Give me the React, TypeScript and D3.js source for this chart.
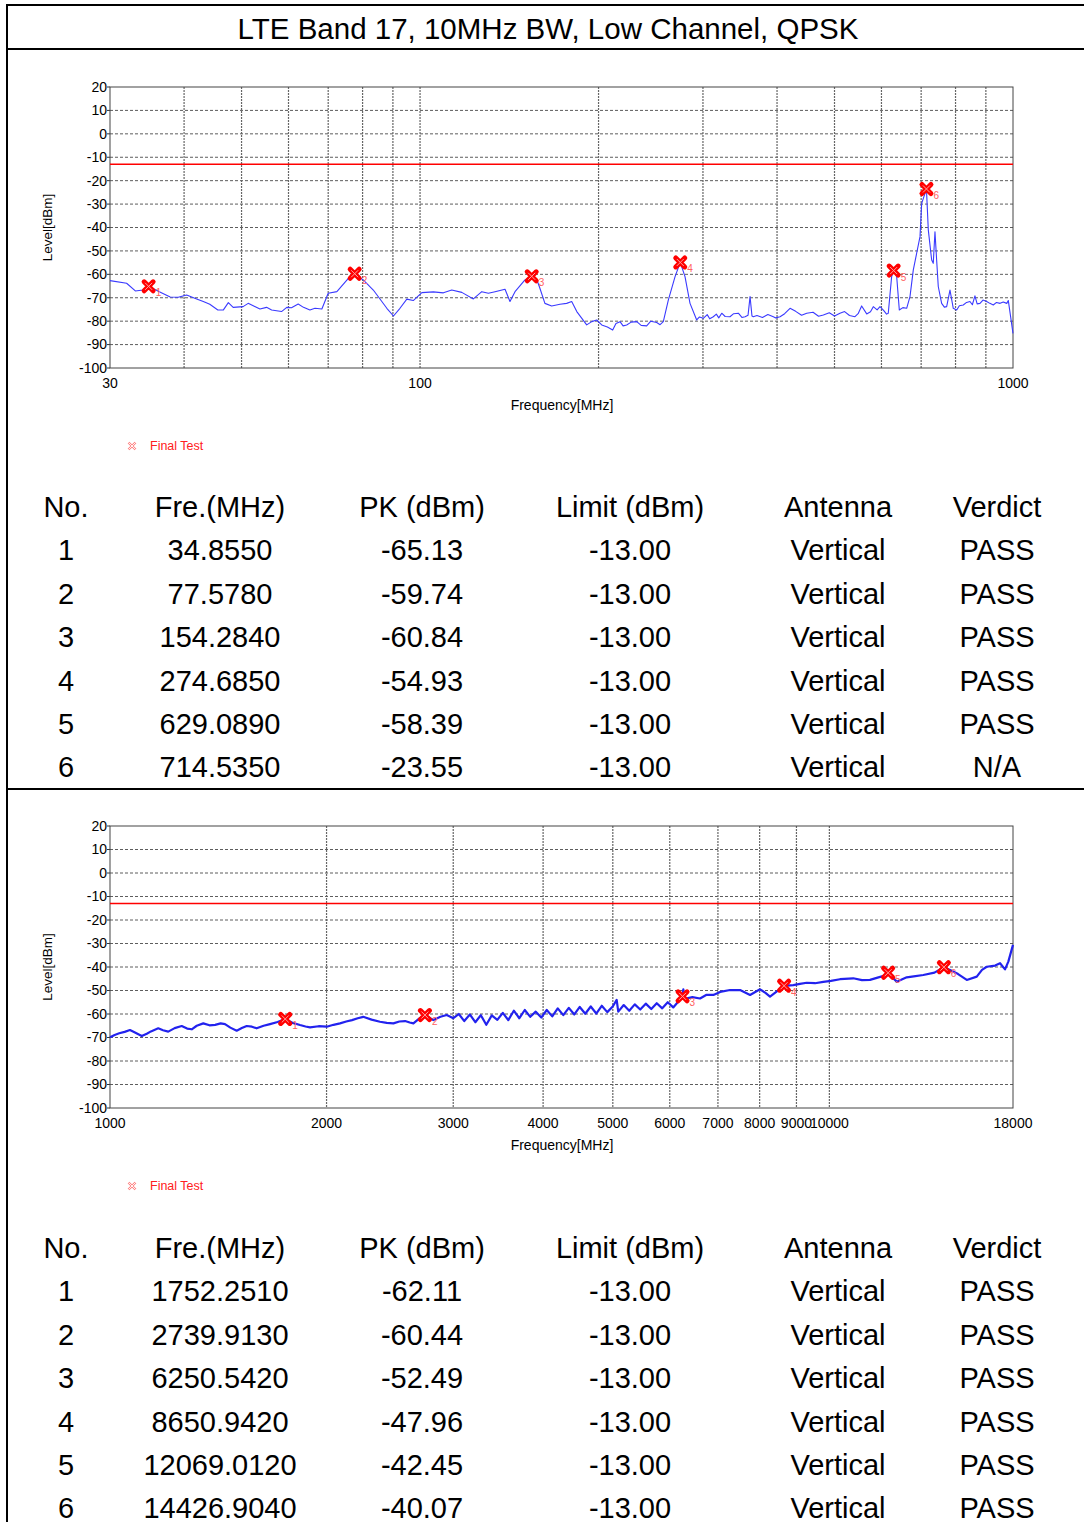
import React from 'react';
import * as d3 from 'd3';

// ---------- DATA ----------
const topTrace: [number, number][] = [
  [30, -62.7], [32.0, -63.8], [33.1, -67.1], [34.1, -66.7], [34.86, -65.1], [36.4, -67.5], [37.9, -69.7], [39.1, -69.8],
  [40.4, -68.8], [42.0, -70.5], [43.1, -71.6], [44.2, -72.8], [45.6, -75.2], [46.6, -75.2], [47.5, -72.1], [48.4, -74.1],
  [50.3, -73.8], [51.3, -72.4], [53.7, -74.8], [55.1, -74.1], [56.2, -75.2], [58.4, -75.9], [59.6, -74.1], [60.7, -74.3],
  [62.3, -72.7], [63.6, -74.1], [65.2, -75.2], [66.5, -74.5], [68.3, -74.8], [70.0, -68.1], [72.4, -67.4], [75.7, -61.7],
  [77.58, -59.7], [80.2, -62.4], [83.4, -66.7], [87.9, -74.5], [90.2, -77.8], [92.5, -74.5], [95.0, -70.6], [97.4, -71.2],
  [100.7, -67.8], [105.3, -67.5], [109.5, -67.9], [113.1, -66.7], [117.6, -67.7], [123.0, -70.5], [127.1, -67.4],
  [130.4, -68.1], [133.8, -67.4], [139.1, -66.4], [141.8, -71.6], [144.6, -67.4], [150.3, -62.4], [154.28, -60.8],
  [157.3, -62.2], [158.9, -65.2], [162.4, -72.4], [166.7, -73.5], [172.2, -72.8], [176.7, -72.4], [180.2, -71.6],
  [183.8, -75.9], [191.0, -81.6], [194.8, -80.2], [198.6, -79.5], [202.5, -81.6], [207, -82.5], [211.3, -83.8],
  [214, -81.0], [217.4, -80.2], [220, -82.0], [223.1, -81.6], [227, -80.4], [232.0, -80.2], [236, -81.8], [241.1, -82.0],
  [245, -80.0], [250.7, -80.6], [254, -81.5], [257.2, -80.2], [262.3, -70.9], [269.2, -61.0], [274.69, -54.9],
  [279.8, -61.0], [285.3, -72.4], [292.8, -79.5], [296, -78.2], [300.4, -78.8], [305, -77.2], [308, -79.0],
  [312.3, -78.1], [316, -77.0], [319, -78.6], [322.7, -76.6], [327, -78.0], [333.2, -78.1], [338, -76.8],
  [344.2, -76.6], [349, -78.4], [353.3, -78.1], [357.4, -77.5], [360.2, -69.5], [362.9, -77.8], [364.8, -78.1],
  [370, -77.6], [378, -78.4], [386, -77.2], [394.3, -78.1], [398, -78.6], [404.7, -78.1], [412, -76.8],
  [420.7, -74.5], [430, -75.8], [440, -77.5], [448.9, -76.6], [460, -76.2], [470, -77.9], [478.8, -77.4],
  [490, -76.4], [500, -77.8], [510.7, -76.6], [520, -75.9], [530, -77.6], [541.4, -78.1], [548, -76.8],
  [555.6, -73.5], [566.6, -76.9], [575, -76.0], [581.3, -73.8], [590, -75.2], [596.6, -73.8], [605, -75.4],
  [612, -77.0], [616.1, -76.6], [624.2, -61.0], [629.09, -58.4], [636.6, -61.0], [643.1, -75.2], [652, -74.2],
  [661.7, -74.5], [670.3, -69.5], [679.0, -58.1], [687.9, -51.0], [696.9, -43.9], [701.4, -29.7], [714.54, -23.6],
  [719.7, -41.0], [729.2, -53.9], [733.7, -55.3], [738.6, -41.8], [743.4, -53.9], [748.1, -65.2], [758.0, -72.4],
  [766, -74.0], [772.9, -73.8], [782.9, -66.7], [793.0, -74.5], [803.6, -75.2], [812, -73.4], [824.4, -73.1],
  [835, -72.0], [846.1, -71.6], [854, -73.0], [862.6, -69.2], [870, -72.6], [879.7, -72.4], [890, -71.0],
  [902.7, -71.6], [914, -72.4], [926.3, -73.1], [938, -72.0], [951.0, -72.4], [963, -71.8], [976.0, -72.4],
  [982.0, -71.2], [1000, -85.2],
];

const bottomTrace: [number, number][] = [
  [1000, -69.9], [1015, -68.9], [1030, -68.2], [1048, -67.6], [1066, -66.8], [1085, -68.0], [1107, -69.4], [1125, -68.4],
  [1140, -67.4], [1167, -66.1], [1185, -66.9], [1205, -67.5], [1230, -66.0], [1258, -65.1], [1280, -66.2], [1299, -66.5],
  [1320, -65.0], [1348, -64.0], [1375, -64.8], [1400, -64.6], [1425, -64.0], [1445, -64.3], [1470, -65.8], [1500, -67.1],
  [1525, -66.0], [1549, -65.1], [1575, -65.4], [1599, -66.1], [1635, -65.0], [1669, -64.3], [1710, -63.4], [1752, -62.1],
  [1795, -63.8], [1837, -64.7], [1870, -65.3], [1897, -65.7], [1950, -65.2], [2001, -65.4], [2045, -64.6], [2088, -64.0],
  [2130, -63.2], [2170, -62.6], [2210, -61.8], [2249, -61.2], [2310, -62.4], [2373, -63.3], [2425, -63.8], [2477, -64.0],
  [2525, -63.2], [2572, -63.0], [2610, -63.6], [2641, -64.0], [2690, -62.0], [2740, -60.4],
  [2815, -62.6], [2880, -61.2], [2938, -60.4],
  [3001, -61.8], [3054, -60.0], [3108, -63.0], [3164, -60.2], [3220, -63.5], [3277, -60.5], [3335, -64.6],
  [3394, -60.6], [3455, -62.5], [3516, -59.5], [3578, -62.6], [3642, -58.6], [3707, -61.8], [3772, -58.3],
  [3839, -61.2], [3907, -59.0], [3977, -61.5], [4047, -58.3], [4119, -61.0], [4192, -57.6], [4267, -60.5],
  [4343, -57.4], [4420, -60.2], [4498, -57.0], [4578, -59.9], [4659, -56.8], [4742, -59.8], [4826, -56.5],
  [4912, -59.2], [4999, -56.8], [5062, -54.0], [5088, -59.0], [5178, -56.2], [5270, -58.6], [5364, -55.9],
  [5459, -58.1], [5556, -55.6], [5655, -57.9], [5755, -55.4], [5857, -57.6], [5961, -55.0], [6067, -57.2],
  [6175, -54.5], [6251, -52.5], [6266, -49.5], [6300, -53.5], [6450, -52.8], [6610, -53.4], [6750, -51.8],
  [6898, -51.9], [7050, -50.6], [7277, -49.8], [7513, -49.8], [7758, -51.9], [8010, -49.5], [8150, -51.0],
  [8270, -52.6], [8651, -48.0], [8911, -47.7], [9100, -47.2], [9299, -46.7], [9550, -46.9], [9808, -46.3],
  [10050, -45.9], [10346, -45.2], [10795, -44.8], [11100, -45.6], [11388, -45.5], [11700, -44.4], [12014, -43.4],
  [12069, -42.5], [12405, -46.3], [12809, -44.4], [13100, -44.0], [13508, -43.4], [14000, -42.4], [14427, -40.1],
  [14716, -41.3], [15100, -43.0], [15524, -45.5], [16029, -44.1], [16300, -41.2], [16550, -39.9], [17000, -39.4],
  [17269, -38.4], [17546, -41.0], [17733, -37.7], [18000, -30.6],
];

const topMarkerFreq = [34.855, 77.578, 154.284, 274.685, 629.089, 714.535];
const topMarkerLevel = [-65.13, -59.74, -60.84, -54.93, -58.39, -23.55];
const topVerdict = ['PASS', 'PASS', 'PASS', 'PASS', 'PASS', 'N/A'];

const bottomMarkerFreq = [1752.251, 2739.913, 6250.542, 8650.942, 12069.012, 14426.904];
const bottomMarkerLevel = [-62.11, -60.44, -52.49, -47.96, -42.45, -40.07];
const bottomVerdict = ['PASS', 'PASS', 'PASS', 'PASS', 'PASS', 'PASS'];

const limitLevel = -13;
const antenna = 'Vertical';

const yTicks = [20, 10, 0, -10, -20, -30, -40, -50, -60, -70, -80, -90, -100];
const topXTicks = [30, 100, 1000];
const topXGrid = [40, 50, 60, 70, 80, 90, 100, 200, 300, 400, 500, 600, 700, 800, 900];
const bottomXTicks = [1000, 2000, 3000, 4000, 5000, 6000, 7000, 8000, 9000, 10000, 18000];
const bottomXGrid = [2000, 3000, 4000, 5000, 6000, 7000, 8000, 9000, 10000];

const tableHeaders = ['No.', 'Fre.(MHz)', 'PK (dBm)', 'Limit (dBm)', 'Antenna', 'Verdict'];
const title = 'LTE Band 17, 10MHz BW, Low Channel, QPSK';

// ---------- LAYOUT ----------
const W = 1084;
const H = 1522;
const PL = 110;
const PR = 1013;
const FONT = 'Liberation Sans, Arial, sans-serif';

type ChartProps = {
  top: number;
  height: number;
  domain: [number, number];
  trace: [number, number][];
  mFreq: number[];
  mLevel: number[];
  xTicks: number[];
  xGrid: number[];
  lineWidth: number;
  lineColor: string;
};

function Marker({ x, y, n }: { x: number; y: number; n: number }) {
  return (
    <g transform={`translate(${x},${y})`}>
      <path d="M-4.5,-4.5L4.5,4.5M4.5,-4.5L-4.5,4.5" stroke="#ff0000" strokeWidth={5} strokeLinecap="round" />
      <path d="M-3.5,-3.5L3.5,3.5M3.5,-3.5L-3.5,3.5" stroke="#ffa0a0" strokeWidth={1} />
      <text x={7} y={10} fontSize={10} fill="#ff6060" fontFamily={FONT}>{n}</text>
    </g>
  );
}

function Chart(p: ChartProps) {
  const x = d3.scaleLog().domain(p.domain).range([PL, PR]);
  const y = d3.scaleLinear().domain([-100, 20]).range([p.top + p.height, p.top]);
  const line = d3.line<[number, number]>().x((d) => x(d[0])).y((d) => y(d[1]));
  const bottom = p.top + p.height;
  return (
    <g fontFamily={FONT}>
      {yTicks.map((t) => (
        <g key={'y' + t}>
          {t !== 20 && t !== -100 && (
            <line x1={PL} x2={PR} y1={y(t)} y2={y(t)} stroke="#333" strokeWidth={0.8} strokeDasharray="3,2" />
          )}
          <line x1={PL - 3} x2={PL} y1={y(t)} y2={y(t)} stroke="#333" strokeWidth={1} />
          <text x={PL - 3} y={y(t)} dy="0.35em" textAnchor="end" fontSize={14} fill="#000">{t}</text>
        </g>
      ))}
      {p.xGrid.map((g) => (
        <line key={'g' + g} x1={x(g)} x2={x(g)} y1={p.top} y2={bottom} stroke="#666" strokeWidth={1.2} strokeDasharray="2,1" />
      ))}
      <rect x={PL} y={p.top} width={PR - PL} height={p.height} fill="none" stroke="#444" strokeWidth={1} />
      {p.xTicks.map((t) => (
        <text key={'x' + t} x={x(t)} y={bottom + 20} textAnchor="middle" fontSize={14} fill="#000">{t}</text>
      ))}
      <text x={562} y={bottom + 42} textAnchor="middle" fontSize={14} fill="#000">Frequency[MHz]</text>
      <text transform={`translate(52,${p.top + p.height / 2}) rotate(-90)`} textAnchor="middle" fontSize={13.5} fill="#000">Level[dBm]</text>
      <line x1={PL} x2={PR} y1={y(limitLevel)} y2={y(limitLevel)} stroke="#ff0000" strokeWidth={1.5} />
      <path d={line(p.trace) || ''} fill="none" stroke={p.lineColor} strokeWidth={p.lineWidth} strokeLinejoin="round" />
      {p.mFreq.map((f, i) => (
        <Marker key={'m' + i} x={x(f)} y={y(p.mLevel[i])} n={i + 1} />
      ))}
      <g transform={`translate(132,${bottom + 78})`}>
        <path d="M-3.5,-3.5L3.5,3.5M3.5,-3.5L-3.5,3.5" stroke="#ff8080" strokeWidth={2.4} />
        <path d="M-3.5,-3.5L3.5,3.5M3.5,-3.5L-3.5,3.5" stroke="#fff" strokeWidth={0.9} />
      </g>
      <text x={150} y={bottom + 82} fontSize={12.5} fill="#ff2020">Final Test</text>
    </g>
  );
}

const colX = [66, 220, 422, 630, 838, 997];

function Table({ top, mFreq, mLevel, verdict }: { top: number; mFreq: number[]; mLevel: number[]; verdict: string[] }) {
  const rowH = 43.4;
  return (
    <g fontFamily={FONT} fontSize={29} fill="#000" textAnchor="middle">
      {tableHeaders.map((h, i) => (
        <text key={'h' + i} x={colX[i]} y={top} dominantBaseline="central">{h}</text>
      ))}
      {mFreq.map((f, r) => {
        const vals = [String(r + 1), f.toFixed(4), mLevel[r].toFixed(2), limitLevel.toFixed(2), antenna, verdict[r]];
        return (
          <g key={'r' + r}>
            {vals.map((v, c) => (
              <text key={c} x={colX[c]} y={top + rowH * (r + 1)} dominantBaseline="central">{v}</text>
            ))}
          </g>
        );
      })}
    </g>
  );
}

export default function App() {
  return (
    <svg width={W} height={H} style={{ position: 'absolute', left: 0, top: 0, background: '#fff' }}>
      <rect x={0} y={0} width={W} height={H} fill="#fff" />
      <line x1={7} x2={W} y1={5} y2={5} stroke="#000" strokeWidth={2} />
      <line x1={7} x2={7} y1={4} y2={H} stroke="#000" strokeWidth={2} />
      <line x1={7} x2={W} y1={49} y2={49} stroke="#000" strokeWidth={2} />
      <line x1={7} x2={W} y1={789} y2={789} stroke="#000" strokeWidth={2} />
      <text x={548} y={28} textAnchor="middle" dominantBaseline="central" fontSize={29.5} fontFamily={FONT}>{title}</text>
      <Chart top={87} height={281} domain={[30, 1000]} trace={topTrace} mFreq={topMarkerFreq} mLevel={topMarkerLevel}
        xTicks={topXTicks} xGrid={topXGrid} lineWidth={1.1} lineColor="#3a3aff" />
      <Table top={507} mFreq={topMarkerFreq} mLevel={topMarkerLevel} verdict={topVerdict} />
      <Chart top={826} height={282} domain={[1000, 18000]} trace={bottomTrace} mFreq={bottomMarkerFreq} mLevel={bottomMarkerLevel}
        xTicks={bottomXTicks} xGrid={bottomXGrid} lineWidth={2.2} lineColor="#2222ee" />
      <Table top={1248} mFreq={bottomMarkerFreq} mLevel={bottomMarkerLevel} verdict={bottomVerdict} />
    </svg>
  );
}
